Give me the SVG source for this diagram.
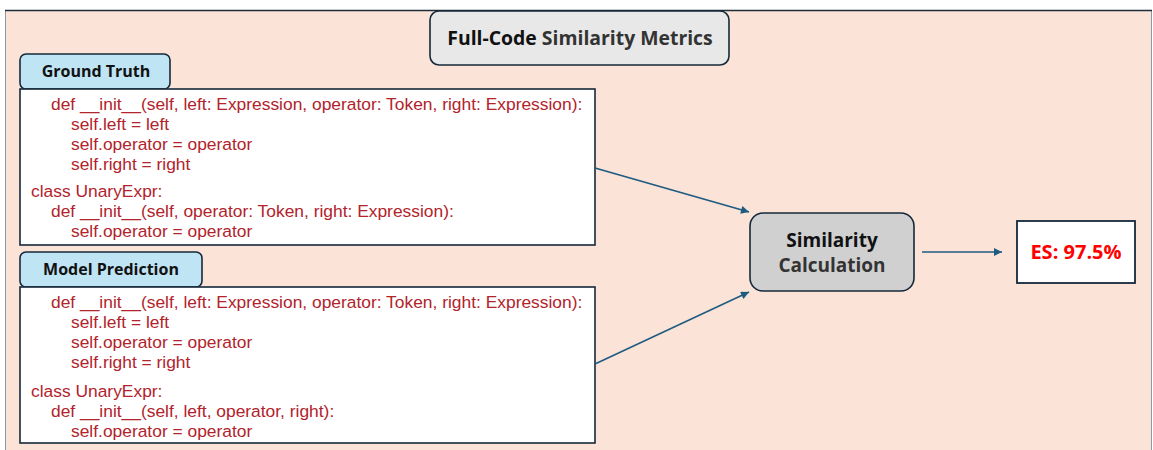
<svg xmlns="http://www.w3.org/2000/svg" width="1153" height="450" viewBox="0 0 1153 450">
<style>
.panel{fill:#fbe3d7;stroke:#8a9aa5;stroke-width:1}
.box{fill:#ffffff;stroke:#16293a;stroke-width:1.6}
.tab{fill:#bfe4f4;stroke:#16293a;stroke-width:1.6}
.code{font-family:"Liberation Sans",Arial,sans-serif;font-size:17.4px;fill:#b2232b}
.lbl{font-family:"Open Sans","Noto Sans",sans-serif;font-weight:bold;fill:#111}
.conn{stroke:#1e5b80;stroke-width:1.6;fill:none;marker-end:url(#ah)}
</style>
<defs>
<marker id="ah" viewBox="0 0 10 10" refX="10" refY="5" markerWidth="10" markerHeight="8" markerUnits="userSpaceOnUse" orient="auto">
<path d="M0,0 L10,5 L0,10 z" fill="#1e5b80"/>
</marker>
</defs>
<rect x="0" y="0" width="1153" height="450" fill="#ffffff"/>
<rect class="panel" x="5.5" y="10.5" width="1146" height="445"/>
<line x1="5" y1="10.5" x2="1152" y2="10.5" stroke="#1c2c38" stroke-width="1.5"/>

<g id="title">
<rect x="430" y="11" width="299" height="54" rx="9" fill="#e8e8e8" stroke="#16293a" stroke-width="1.6"/>
<text class="lbl" x="580" y="45" font-size="19.4" text-anchor="middle"><tspan fill="#111">Full-Code</tspan><tspan fill="#333"> Similarity Metrics</tspan></text>
</g>

<g id="ground-truth">
<rect class="tab" x="20" y="54" width="150" height="35" rx="6"/>
<text class="lbl" x="96" y="77" font-size="16" text-anchor="middle">Ground Truth</text>
<rect class="box" x="20" y="89" width="575" height="156"/>
<text class="code" x="51" y="110">def __init__(self, left: Expression, operator: Token, right: Expression):</text>
<text class="code" x="71" y="130">self.left = left</text>
<text class="code" x="71" y="150">self.operator = operator</text>
<text class="code" x="71" y="170">self.right = right</text>
<text class="code" x="31" y="197">class UnaryExpr:</text>
<text class="code" x="51" y="217">def __init__(self, operator: Token, right: Expression):</text>
<text class="code" x="71" y="237">self.operator = operator</text>
</g>

<g id="model-prediction">
<rect class="tab" x="20" y="252" width="182" height="35" rx="6"/>
<text class="lbl" x="111" y="275" font-size="16" text-anchor="middle">Model Prediction</text>
<rect class="box" x="20" y="287" width="575" height="156"/>
<text class="code" x="51" y="308">def __init__(self, left: Expression, operator: Token, right: Expression):</text>
<text class="code" x="71" y="328">self.left = left</text>
<text class="code" x="71" y="348">self.operator = operator</text>
<text class="code" x="71" y="368">self.right = right</text>
<text class="code" x="31" y="397">class UnaryExpr:</text>
<text class="code" x="51" y="417">def __init__(self, left, operator, right):</text>
<text class="code" x="71" y="437">self.operator = operator</text>
</g>

<g id="similarity">
<rect x="750" y="213" width="164" height="78" rx="13" fill="#d0d0d0" stroke="#16293a" stroke-width="1.6"/>
<text class="lbl" x="832" y="247" font-size="19" text-anchor="middle" fill="#111">Similarity</text>
<text class="lbl" x="832" y="272" font-size="19" text-anchor="middle" style="fill:#333">Calculation</text>
</g>

<g id="result">
<rect x="1017" y="221" width="118" height="62" fill="#ffffff" stroke="#16293a" stroke-width="1.8"/>
<text class="lbl" x="1076" y="259" font-size="20" text-anchor="middle" style="fill:#ff0000">ES: 97.5%</text>
</g>

<g id="connectors">
<line class="conn" x1="595" y1="168" x2="749" y2="212"/>
<line class="conn" x1="595" y1="364" x2="749" y2="292"/>
<line class="conn" x1="922" y1="252" x2="1002" y2="252"/>
</g>
</svg>
